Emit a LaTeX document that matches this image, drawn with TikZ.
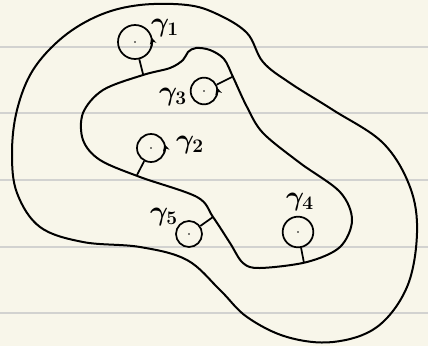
\documentclass[tikz,border=0pt]{standalone}
\usepackage{amsmath,bm}
\usetikzlibrary{arrows.meta}
\definecolor{paper}{HTML}{F8F6EA}
\definecolor{rule}{HTML}{D2D2D0}
\begin{document}
\begin{tikzpicture}[x=0.75pt,y=-0.75pt,
  curve/.style={line width=1.5pt,line join=round,line cap=round},
  hole/.style={circle,draw,line width=1.3pt,inner sep=0pt},
  tail/.style={line width=1.3pt},
  lab/.style={font=\huge},
  spin/.style={line width=1.3pt,-{Stealth[length=5pt,width=5pt]}}]
\fill[paper] (0,0) rectangle (428,346);
\useasboundingbox (0,0) rectangle (428,346);
\foreach \yy in {47,113,180,247,313}
  \draw[rule,line width=1.3pt] (0,\yy) -- (428,\yy);
% outer boundary
\draw[curve] plot[smooth cycle,tension=0.6] coordinates {
 (187,5) (217,14) (247,33) (263,62) (290,83) (333,110) (383,143) (410,187)
 (417,233) (407,287) (377,327) (333,342) (287,337) (247,317) (220,290)
 (187,260) (140,247) (83,242) (40,227) (17,193) (12,153) (17,110) (33,70)
 (63,37) (100,15) (140,5)};
% inner boundary
\draw[curve] plot[smooth cycle,tension=0.55] coordinates {
 (188,52) (196,48) (210,50) (224,59) (233,77) (247,107) (263,133) (300,163)
 (340,192) (352,220) (340,247) (307,262) (260,268) (243,263) (230,243)
 (213,217) (197,197) (140,177) (100,160) (83,140) (83,113) (103,90)
 (143,75) (170,68) (183,60)};
% holes
\node[hole,minimum size=25.5pt] (c1) at (135,42) {};
\node[hole,minimum size=20pt] (c3) at (204,91) {};
\node[hole,minimum size=21pt] (c2) at (151,148) {};
\node[hole,minimum size=19.5pt] (c5) at (189,234) {};
\node[hole,minimum size=23pt] (c4) at (298,232) {};
\foreach \c in {c1,c2,c3,c4,c5} \fill (\c) circle (0.6pt);
% tails
\coordinate (t1) at (143,74);
\coordinate (t3) at (232,77);
\coordinate (t2) at (137,175);
\coordinate (t5) at (213,217);
\coordinate (t4) at (304,263);
\draw[tail] (c1) -- (t1);
\draw[tail] (c3) -- (t3);
\draw[tail] (c2) -- (t2);
\draw[tail] (c5) -- (t5);
\draw[tail] (c4) -- (t4);
% orientation arrows
\draw[spin] ([shift={(20:17)}]c1.center) arc[start angle=20,end angle=-16,radius=17];
\draw[spin] ([shift={(20:13.3)}]c3.center) arc[start angle=20,end angle=-16,radius=13.3];
\draw[spin] ([shift={(20:14)}]c2.center) arc[start angle=20,end angle=-16,radius=14];
% labels
\node[lab] (l1) at (165,28) {$\bm{\gamma}_{\mathbf 1}$};
\node[lab] (l3) at (173,97) {$\bm{\gamma}_{\mathbf 3}$};
\node[lab] (l2) at (190,145) {$\bm{\gamma}_{\mathbf 2}$};
\node[lab] (l5) at (164,217) {$\bm{\gamma}_{\mathbf 5}$};
\node[lab] (l4) at (300,202) {$\bm{\gamma}_{\mathbf 4}$};
\end{tikzpicture}
\end{document}
